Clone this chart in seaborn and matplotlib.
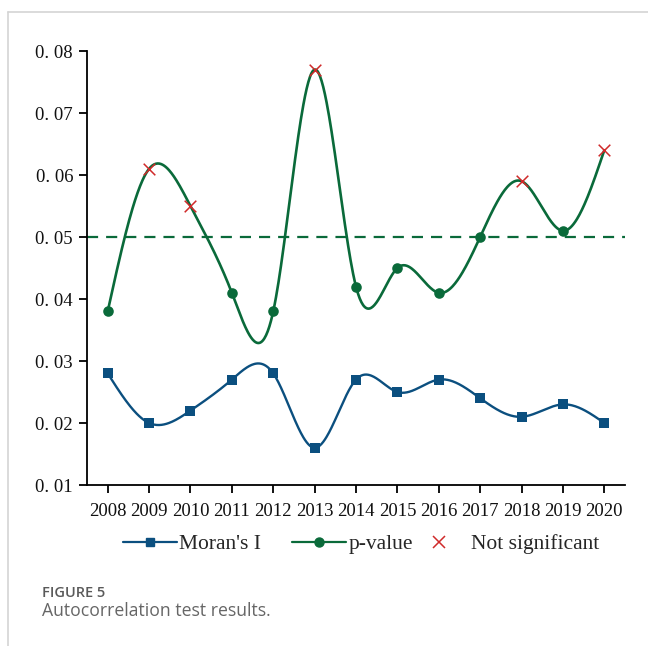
import numpy as np
import pandas as pd
import matplotlib
matplotlib.use("Agg")
import matplotlib.pyplot as plt
from matplotlib.lines import Line2D
import seaborn as sns

# ---- data ----
years = [2008, 2009, 2010, 2011, 2012, 2013, 2014, 2015, 2016, 2017, 2018, 2019, 2020]
morans_i = [0.028, 0.020, 0.022, 0.027, 0.028, 0.016, 0.027, 0.025, 0.027, 0.024, 0.021, 0.023, 0.020]
p_values = [0.038, 0.061, 0.055, 0.041, 0.038, 0.077, 0.042, 0.045, 0.041, 0.050, 0.059, 0.051, 0.064]
not_sig_years = [2009, 2010, 2013, 2018, 2020]
threshold = 0.05
y_ticks = [0.01, 0.02, 0.03, 0.04, 0.05, 0.06, 0.07, 0.08]
y_tick_labels = ["0. 01", "0. 02", "0. 03", "0. 04", "0. 05", "0. 06", "0. 07", "0. 08"]
legend_labels = ["Moran's I", "p-value", "Not significant"]
caption_title = "FIGURE 5"
caption_text = "Autocorrelation test results."

BLUE = "#0b4f7f"
GREEN = "#0a6a3a"
RED = "#d02a2a"


def natural_spline(x, y, n_out=600):
    x = np.asarray(x, float)
    y = np.asarray(y, float)
    n = len(x)
    h = np.diff(x)
    A = np.zeros((n, n))
    b = np.zeros(n)
    A[0, 0] = 1
    A[-1, -1] = 1
    for i in range(1, n - 1):
        A[i, i - 1] = h[i - 1]
        A[i, i] = 2 * (h[i - 1] + h[i])
        A[i, i + 1] = h[i]
        b[i] = 3 * ((y[i + 1] - y[i]) / h[i] - (y[i] - y[i - 1]) / h[i - 1])
    c = np.linalg.solve(A, b)
    xs = np.linspace(x[0], x[-1], n_out)
    idx = np.clip(np.searchsorted(x, xs, side="right") - 1, 0, n - 2)
    t = xs - x[idx]
    bb = (y[idx + 1] - y[idx]) / h[idx] - h[idx] * (2 * c[idx] + c[idx + 1]) / 3
    dd = (c[idx + 1] - c[idx]) / (3 * h[idx])
    ys = y[idx] + bb * t + c[idx] * t ** 2 + dd * t ** 3
    return xs, ys


sns.set_style("ticks")
plt.rcParams["font.family"] = ["Liberation Serif", "DejaVu Serif"]

fig = plt.figure(figsize=(6.48, 6.46), dpi=100)
ax = fig.add_axes([87 / 648, 1 - 485 / 646, (625 - 87) / 648, (485 - 51) / 646])

df = pd.DataFrame({"year": years, "moran": morans_i, "p": p_values})
mx, my = natural_spline(years, morans_i)
px, py = natural_spline(years, p_values)

ax.axhline(threshold, color=GREEN, lw=1.6, ls=(0, (5, 3.6)), zorder=1)

sns.lineplot(x=mx, y=my, ax=ax, color=BLUE, lw=1.7, zorder=2)
sns.lineplot(x=px, y=py, ax=ax, color=GREEN, lw=1.9, zorder=2)

sns.scatterplot(data=df, x="year", y="moran", ax=ax, marker="s", s=48,
                color=BLUE, edgecolor=BLUE, linewidth=0, zorder=3)
ns_mask = df["year"].isin(not_sig_years)
sns.scatterplot(data=df[~ns_mask], x="year", y="p", ax=ax, marker="o", s=58,
                color=GREEN, edgecolor=GREEN, linewidth=0, zorder=3)
sns.scatterplot(data=df[ns_mask], x="year", y="p", ax=ax, marker="x", s=70,
                color=RED, linewidth=1.1, zorder=4)

ax.set_xlim(2007.5, 2020.5)
ax.set_ylim(0.01, 0.08)
ax.set_xticks(years)
ax.set_xticklabels([str(y) for y in years])
ax.set_yticks(y_ticks)
ax.set_yticklabels(y_tick_labels)
ax.set_xlabel("")
ax.set_ylabel("")
for s in ["top", "right"]:
    ax.spines[s].set_visible(False)
for s in ["left", "bottom"]:
    ax.spines[s].set_linewidth(1.3)
    ax.spines[s].set_color("black")
ax.tick_params(axis="both", direction="out", length=6, width=1.3, color="black",
               labelsize=13.5, labelcolor="#111111")
ax.tick_params(axis="y", pad=4)
ax.tick_params(axis="x", pad=7)

handles12 = [
    Line2D([], [], color=BLUE, lw=1.6, marker="s", markersize=6),
    Line2D([], [], color=GREEN, lw=1.6, marker="o", markersize=6.5),
]
leg1 = fig.legend(handles12, legend_labels[:2], loc="center left",
                  bbox_to_anchor=(123 / 648, 1 - 544 / 646), ncol=2, frameon=False,
                  fontsize=15.5, handlelength=2.5, handletextpad=0.1, columnspacing=1.45,
                  borderpad=0, borderaxespad=0)
handle3 = [Line2D([], [], color=RED, lw=0, marker="x", markersize=9, markeredgewidth=1.1)]
leg2 = fig.legend(handle3, legend_labels[2:], loc="center left",
                  bbox_to_anchor=(428 / 648, 1 - 544 / 646), frameon=False,
                  fontsize=15.5, handlelength=1.0, handletextpad=1.0,
                  borderpad=0, borderaxespad=0)

fig.add_artist(Line2D([8 / 648, 1], [1 - 12 / 646, 1 - 12 / 646], transform=fig.transFigure,
                      color="#d4d4d4", lw=1.2))
fig.add_artist(Line2D([8 / 648, 8 / 648], [0, 1 - 12 / 646], transform=fig.transFigure,
                      color="#d4d4d4", lw=1.2))

fig.text(42 / 648, 1 - 593 / 646, caption_title, family=["Open Sans", "DejaVu Sans"],
         fontsize=10.5, fontweight="semibold", color="#5a5a5a", va="center", ha="left")
fig.text(42 / 648, 1 - 611 / 646, caption_text, family=["Open Sans", "DejaVu Sans"],
         fontsize=12.7, color="#666666", va="center", ha="left")

fig.savefig("out.png", dpi=100)
